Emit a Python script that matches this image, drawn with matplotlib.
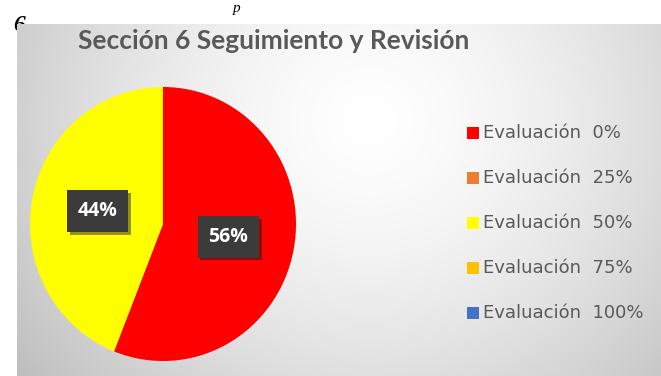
import numpy as np
import matplotlib
matplotlib.use("Agg")
import matplotlib.pyplot as plt
import matplotlib.patheffects as pe
from matplotlib.patches import Rectangle

# datos de la sección 6
categorias = ['Evaluación  0%', 'Evaluación  25%', 'Evaluación  50%',
              'Evaluación  75%', 'Evaluación  100%']
valores = [56, 0, 44, 0, 0]
colores = ['#FF0000', '#ED7D31', '#FFFF00', '#FFC000', '#4472C4']
titulo = 'Sección 6 Seguimiento y Revisión'

W, H = 661, 376
fig = plt.figure(figsize=(W / 100, H / 100), dpi=100)
fig.patch.set_facecolor('white')

# restos del texto del documento (quedan tapados por el gráfico)
fig.text(13 / W, 1 - 31 / H, '6', fontsize=17, family='Liberation Serif',
         weight='bold', style='italic', color='black', zorder=-5)
fig.text(233 / W, 1 - 12 / H, 'p', fontsize=11, family='Liberation Serif',
         style='italic', color='black', zorder=-5)

# fondo degradado del área del gráfico
x0, y0 = 17, 24
ax_bg = fig.add_axes([x0 / W, 0, (W - x0) / W, (H - y0) / H])
gx, gy = np.meshgrid(np.linspace(x0, W, 300), np.linspace(y0, H, 200))
d = np.sqrt(((gx - 370) / 340) ** 2 + ((gy - 120) / 320) ** 2)
gris = 1.0 - 0.17 * np.clip(d, 0, 1.3) ** 1.5
ax_bg.imshow(np.dstack([gris, gris, gris]), aspect='auto',
             extent=[x0, W, H, y0], interpolation='bilinear')
ax_bg.set_xlim(x0, W)
ax_bg.set_ylim(H, y0)
ax_bg.axis('off')

# pastel
cx, cy, rx, ry = 163, 224, 133, 137
ax = fig.add_axes([(cx - rx) / W, (H - cy - ry) / H, 2 * rx / W, 2 * ry / H])
wedges, _, etiquetas = ax.pie(
    valores, colors=colores, startangle=90, counterclock=False,
    autopct=lambda p: f'{p:.0f}%' if p > 0 else '', pctdistance=0.5,
    wedgeprops=dict(linewidth=0))
ax.set_aspect('auto')
ax.set_xlim(-1, 1)
ax.set_ylim(-1, 1)
for t in etiquetas:
    t.set_color('white')
    t.set_fontsize(14)
    t.set_fontweight('bold')
    t.set_family('Open Sans')
    t.set_bbox(dict(boxstyle='square,pad=0.55', facecolor='#3b3b3b',
                    edgecolor='none'))
    t.get_bbox_patch().set_path_effects(
        [pe.SimplePatchShadow(offset=(2, -2), alpha=0.45), pe.Normal()])

# capa superior en coordenadas de píxel: título y leyenda
top = fig.add_axes([0, 0, 1, 1])
top.set_xlim(0, W)
top.set_ylim(H, 0)
top.axis('off')
top.patch.set_alpha(0)

top.text(274, 41, titulo, ha='center', va='center', fontsize=19,
         family='Lato', weight='bold', color='#595959')

for i, (cat, col) in enumerate(zip(categorias, colores)):
    yy = 133 + i * 45
    top.add_patch(Rectangle((467, yy - 6), 12, 12, facecolor=col,
                            edgecolor='none'))
    top.text(483, yy, cat, ha='left', va='center', fontsize=13,
             family='DejaVu Sans', color='#595959')

fig.savefig('out.png', dpi=100)
